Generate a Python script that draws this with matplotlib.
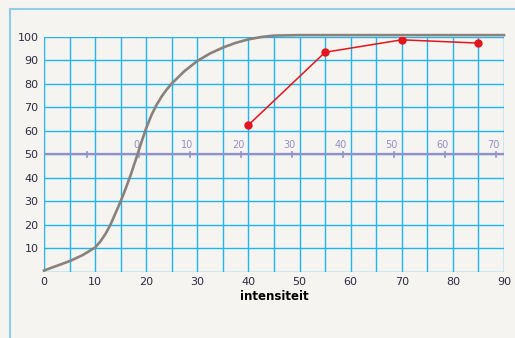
import matplotlib.pyplot as plt
from matplotlib.patches import Rectangle

# grey reference curve
curve_x = [0, 2.5, 5, 7.5, 10, 11, 12, 13, 14, 15, 16, 17, 18, 19, 20, 21, 22, 23, 24, 25,
           27.5, 30, 32.5, 35, 37.5, 40, 42.5, 45, 50, 60, 70, 80, 90]
curve_y = [0.5, 2.5, 4.5, 7, 10.3, 12.8, 16, 20, 25, 30, 35.5, 41.5, 48, 54.8, 61.2, 66.6, 71,
           74.6, 77.6, 80.2, 85.5, 89.8, 93, 95.5, 97.5, 99, 100, 100.6, 100.8, 100.8, 100.8,
           100.8, 100.8]

# red measured points
pts_x = [40, 55, 70, 85]
pts_y = [62.5, 93.5, 98.8, 97.4]

# secondary scale drawn on the 50-line
sec_ticks = [-10, 0, 10, 20, 30, 40, 50, 60, 70]
sec_offset = 18.5

bg = "#f5f4f1"
blue = "#1fb4ea"
purple = "#948fc4"
ink = "#2b2b40"

fig = plt.figure(figsize=(5.15, 3.38), dpi=100)
fig.patch.set_facecolor(bg)
fig.patches.append(Rectangle((10 / 515, -0.1), 1.2, 1 - 9 / 338 + 0.1,
                             transform=fig.transFigure, fill=False,
                             edgecolor="#8fcdea", lw=1.5))

ax = fig.add_axes([44 / 515, 1 - 271.7 / 338, 460 / 515, 234.7 / 338])
ax.set_facecolor(bg)
ax.set_xlim(0, 90)
ax.set_ylim(0, 100)

for v in range(0, 91, 5):
    ax.axvline(v, color=blue, lw=1.0, zorder=1)
for v in range(0, 101, 10):
    ax.axhline(v, color=blue, lw=1.0, zorder=1)
for s in ax.spines.values():
    s.set_visible(False)

ax.set_xticks(range(0, 91, 10))
ax.set_yticks(range(10, 101, 10))
ax.tick_params(length=0, labelsize=8, colors=ink, pad=4)
ax.set_xlabel("intensiteit", fontsize=8.5, fontweight="bold", color="black", labelpad=2)

# secondary scale
ax.plot([0, 90], [50, 50], color=purple, lw=1.6, zorder=2)
for s in sec_ticks:
    ax.plot([s + sec_offset] * 2, [48.8, 51.2], color=purple, lw=1.2, zorder=2)
    if s >= 0:
        ax.text(s + sec_offset - 0.5, 52, str(s), color=purple, fontsize=7,
                ha="center", va="bottom", zorder=2)

ax.plot(curve_x, curve_y, color="#8a817c", lw=1.9, zorder=3, clip_on=False,
        solid_joinstyle="round")
ax.plot(pts_x, pts_y, color="#e3141b", lw=1.1, marker="o", ms=5, zorder=4)

plt.savefig("out.png", dpi=100, facecolor=bg)
